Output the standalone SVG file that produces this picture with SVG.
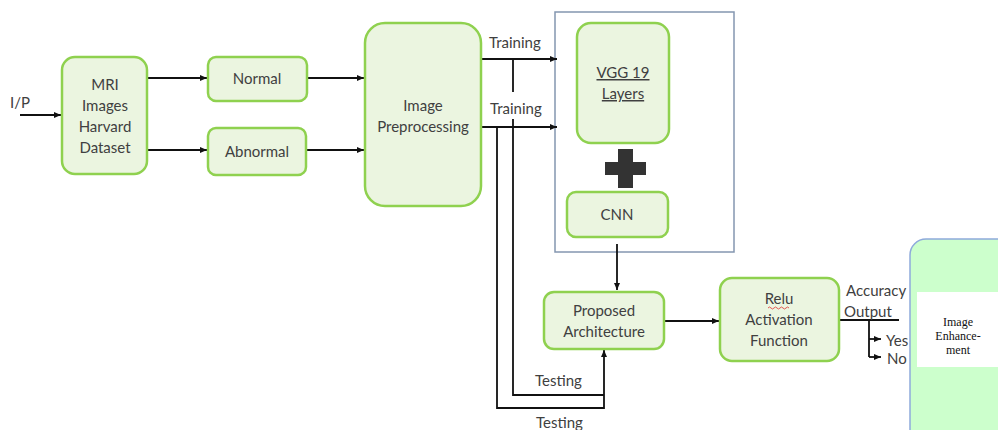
<svg xmlns="http://www.w3.org/2000/svg" width="998" height="430" viewBox="0 0 998 430">
<defs>
<marker id="ah" markerWidth="8" markerHeight="8" refX="7" refY="4" orient="auto" markerUnits="userSpaceOnUse">
<path d="M0,1 L7,4 L0,7 Z" fill="#111"/>
</marker>
<style>
.n{fill:#ebf5e0;stroke:#8fd14f;stroke-width:2.5}
.t{font-family:Lato,"Open Sans","Liberation Sans",sans-serif;font-size:15px;fill:#404040;text-anchor:middle}
.l{font-family:Lato,"Open Sans","Liberation Sans",sans-serif;font-size:15px;fill:#404040}
.c{fill:none;stroke:#111;stroke-width:1.8}
.a{fill:none;stroke:#111;stroke-width:1.8;marker-end:url(#ah)}
.s{font-family:"Liberation Serif",serif;font-size:12px;fill:#111;text-anchor:middle}
</style>
</defs>
<rect width="998" height="430" fill="#fff"/>
<rect x="555" y="12" width="179" height="240" fill="none" stroke="#8496b0" stroke-width="1.5"/>
<g id="connectors">
<path class="a" d="M20,115 H61"/>
<path class="a" d="M147,78 H207"/>
<path class="a" d="M147,150 H207"/>
<path class="a" d="M307,78 H364"/>
<path class="a" d="M306,150 H364"/>
<path class="a" d="M481,59 H557"/>
<path class="a" d="M481,127 H557"/>
<path class="c" d="M513,59 V92 M513,119 V395 H604"/>
<path class="a" d="M497,127 V408 H604 V350"/>
<path class="a" d="M617,244 V290"/>
<path class="a" d="M664,321 H719"/>
<path class="c" d="M839,320 H899 M869,320 V357"/>
<path class="a" d="M869,339 H881"/>
<path class="a" d="M869,357 H881"/>
</g>
<text class="l" x="10" y="108">I/P</text>
<g id="mri"><rect class="n" x="62" y="57" width="85" height="117" rx="13"/>
<text class="t" x="105" y="90">MRI</text><text class="t" x="105" y="111">Images</text><text class="t" x="105" y="132">Harvard</text><text class="t" x="105" y="153">Dataset</text></g>
<g id="normal"><rect class="n" x="208" y="57" width="99" height="44" rx="8"/><text class="t" x="257" y="84">Normal</text></g>
<g id="abnormal"><rect class="n" x="208" y="128" width="98" height="47" rx="8"/><text class="t" x="257" y="157">Abnormal</text></g>
<g id="preproc"><rect class="n" x="365" y="23" width="116" height="183" rx="20"/>
<text class="t" x="423" y="111">Image</text><text class="t" x="423" y="132">Preprocessing</text></g>
<text class="l" x="489" y="48">Training</text>
<text class="l" x="490" y="114">Training</text>
<g id="vgg"><rect class="n" x="577" y="23" width="92" height="120" rx="14"/>
<text class="t" x="623" y="78" text-decoration="underline">VGG 19</text><text class="t" x="623" y="99" text-decoration="underline">Layers</text></g>
<g id="plus"><path d="M618,149 H633 V162 H646 V175 H633 V188 H618 V175 H605 V162 H618 Z" fill="#333"/></g>
<g id="cnn"><rect class="n" x="567" y="192" width="101" height="45" rx="9"/><text class="t" x="617" y="220">CNN</text></g>
<g id="proposed"><rect class="n" x="544" y="292" width="120" height="57" rx="10"/>
<text class="t" x="604" y="316">Proposed</text><text class="t" x="604" y="337">Architecture</text></g>
<text class="l" x="535" y="386">Testing</text>
<text class="l" x="536" y="428">Testing</text>
<g id="relu"><rect class="n" x="720" y="278" width="119" height="83" rx="12"/>
<text class="t" x="779" y="304">Relu</text><text class="t" x="779" y="325">Activation</text><text class="t" x="779" y="346">Function</text>
<path d="M768,308 q1.5,-2 3,0 t3,0 t3,0 t3,0 t3,0 t3,0 t3,0" fill="none" stroke="#e03030" stroke-width="0.8"/></g>
<text class="l" x="846" y="296">Accuracy</text>
<text class="l" x="844" y="317">Output</text>
<text class="l" x="886" y="346">Yes</text>
<text class="l" x="887" y="364">No</text>
<g id="enh"><rect x="910" y="239" width="110" height="210" rx="16" fill="#ccffcc" stroke="#8eaadb" stroke-width="1.5"/>
<rect x="917" y="292" width="81" height="75" fill="#fff"/>
<text class="s" x="958" y="326">Image</text>
<text class="s" x="958" y="340">Enhance-</text>
<text class="s" x="958" y="354">ment</text></g>
</svg>
